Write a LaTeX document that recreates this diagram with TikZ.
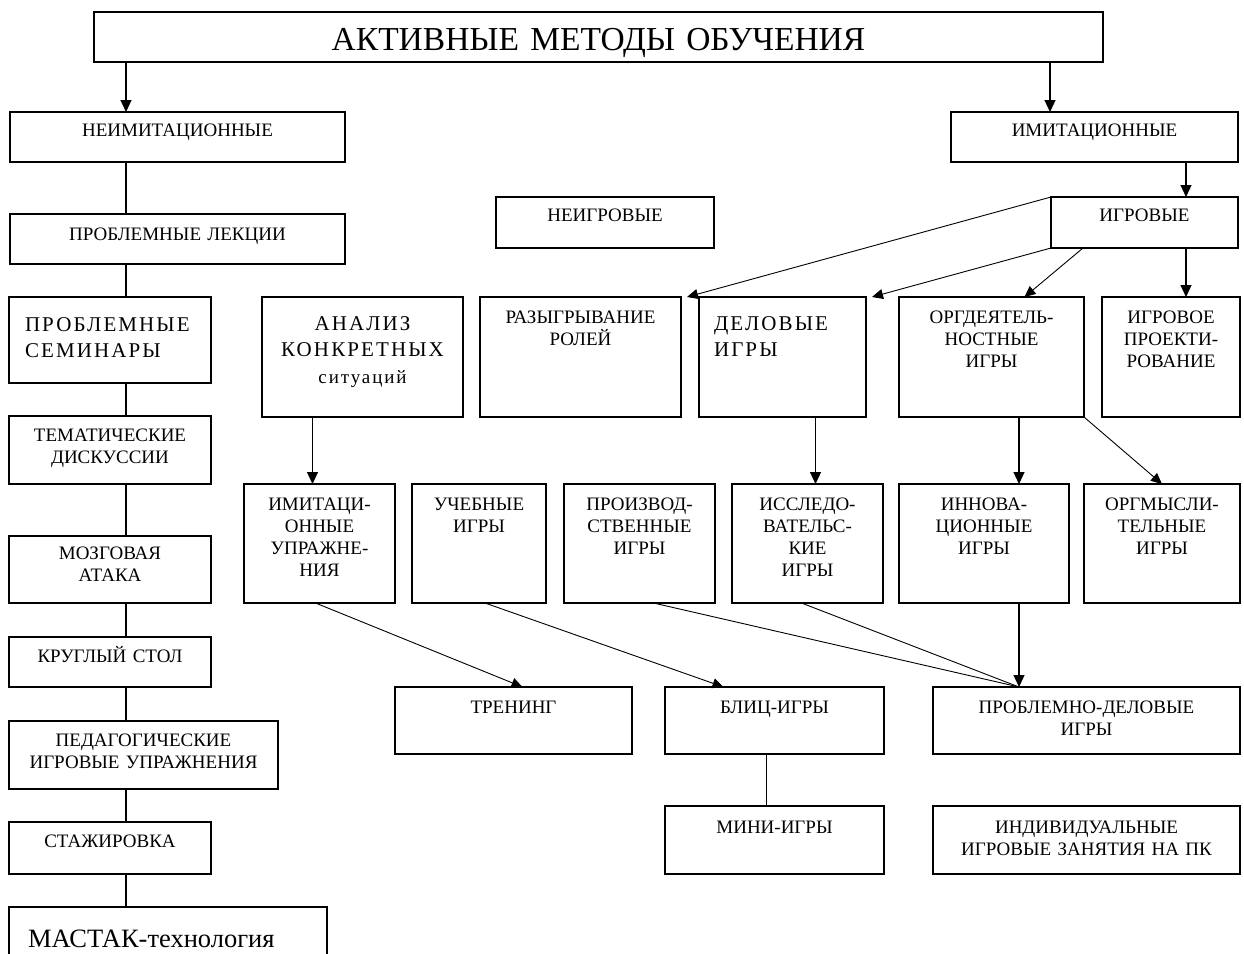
\documentclass[tikz,border=0pt]{standalone}
\usepackage{fontspec}
\setmainfont{Liberation Serif}
\newfontfamily\widefont[LetterSpace=10]{Liberation Serif}
\usetikzlibrary{arrows.meta}

\tikzstyle{bag} = [draw, line width=1.3pt, anchor=north west, inner sep=0pt, outer sep=0pt,
  align=center, font=\fontsize{19}{22}\selectfont]
\tikzstyle{big} = [font=\widefont\fontsize{21}{26.5}\selectfont]
\tikzstyle{con} = [line width=1.2pt]
\tikzstyle{arr} = [line width=1.2pt, -{Triangle[length=12pt,width=11pt]}]
\tikzstyle{tcon} = [line width=0.9pt]
\tikzstyle{tarr} = [line width=0.9pt, -{Triangle[length=11pt,width=10pt]}]

\begin{document}
\begin{tikzpicture}[x=1pt, y=-1pt]
\path[use as bounding box, fill=white] (0,0) rectangle (1244,953);

% top
\node[bag, text width=1009pt, text height=38pt, text depth=12pt,
  font=\fontsize{33.5}{36}\selectfont] (title) at (94,12) {АКТИВНЫЕ МЕТОДЫ ОБУЧЕНИЯ};
\node[bag, text width=335pt, text height=24pt, text depth=26pt] (neimit) at (10,112) {НЕИМИТАЦИОННЫЕ};
\node[bag, text width=287pt, text height=24pt, text depth=26pt] (imit) at (951,112) {ИМИТАЦИОННЫЕ};
\node[bag, text width=218pt, text height=24pt, text depth=27pt] (neigr) at (496,197) {НЕИГРОВЫЕ};
\node[bag, text width=187pt, text height=24pt, text depth=27pt] (igr) at (1051,197) {ИГРОВЫЕ};

% left column
\node[bag, text width=335pt, text height=26pt, text depth=24pt] (lect) at (10,214) {ПРОБЛЕМНЫЕ ЛЕКЦИИ};
\node[bag, big, align=left, inner xsep=16pt, text width=170pt,
  text height=34pt, text depth=52pt] (sem) at (9,297) {ПРОБЛЕМНЫЕ\\СЕМИНАРЫ};
\node[bag, text width=202pt, text height=25pt, text depth=43pt] (tema) at (9,416) {ТЕМАТИЧЕСКИЕ\\ДИСКУССИИ};
\node[bag, text width=202pt, text height=23pt, text depth=44pt] (mozg) at (9,536) {МОЗГОВАЯ\\АТАКА};
\node[bag, text width=202pt, text height=25pt, text depth=25pt] (krug) at (9,637) {КРУГЛЫЙ СТОЛ};
\node[bag, text width=269pt, text height=25pt, text depth=43pt] (ped) at (9,721) {ПЕДАГОГИЧЕСКИЕ\\ИГРОВЫЕ УПРАЖНЕНИЯ};
\node[bag, text width=202pt, text height=25pt, text depth=27pt] (stazh) at (9,822) {СТАЖИРОВКА};
\node[bag, align=left, inner xsep=19pt, text width=280pt,
  text height=40pt, text depth=20pt, font=\fontsize{26.5}{30}\selectfont] (mast) at (9,907) {МАСТАК-технология};

% second row
\node[bag, big, text width=201pt, text height=33pt, text depth=87pt] (anal) at (262,297)
  {АНАЛИЗ\\КОНКРЕТНЫХ\\{\fontsize{19}{26.5}\selectfont ситуаций}};
\node[bag, text width=201pt, text height=26pt, text depth=94pt] (roli) at (480,297) {РАЗЫГРЫВАНИЕ\\РОЛЕЙ};
\node[bag, big, align=left, inner xsep=15pt, text width=137pt,
  text height=33pt, text depth=87pt] (delo) at (699,297) {ДЕЛОВЫЕ\\ИГРЫ};
\node[bag, text width=185pt, text height=26pt, text depth=94pt] (orgd) at (899,297) {ОРГДЕЯТЕЛЬ-\\НОСТНЫЕ\\ИГРЫ};
\node[bag, text width=138pt, text height=26pt, text depth=94pt] (proekt) at (1102,297) {ИГРОВОЕ\\ПРОЕКТИ-\\РОВАНИЕ};

% third row
\node[bag, text width=151pt, text height=26pt, text depth=93pt] (imup) at (244,484) {ИМИТАЦИ-\\ОННЫЕ\\УПРАЖНЕ-\\НИЯ};
\node[bag, text width=134pt, text height=26pt, text depth=93pt] (ucheb) at (412,484) {УЧЕБНЫЕ\\ИГРЫ};
\node[bag, text width=151pt, text height=26pt, text depth=93pt] (proizv) at (564,484) {ПРОИЗВОД-\\СТВЕННЫЕ\\ИГРЫ};
\node[bag, text width=151pt, text height=26pt, text depth=93pt] (issl) at (732,484) {ИССЛЕДО-\\ВАТЕЛЬС-\\КИЕ\\ИГРЫ};
\node[bag, text width=170pt, text height=26pt, text depth=93pt] (innov) at (899,484) {ИННОВА-\\ЦИОННЫЕ\\ИГРЫ};
\node[bag, text width=156pt, text height=26pt, text depth=93pt] (orgm) at (1084,484) {ОРГМЫСЛИ-\\ТЕЛЬНЫЕ\\ИГРЫ};

% bottom rows
\node[bag, text width=237pt, text height=26pt, text depth=41pt] (trening) at (395,687) {ТРЕНИНГ};
\node[bag, text width=219pt, text height=26pt, text depth=41pt] (blic) at (665,687) {БЛИЦ-ИГРЫ};
\node[bag, text width=307pt, text height=26pt, text depth=41pt] (probl) at (933,687) {ПРОБЛЕМНО-ДЕЛОВЫЕ\\ИГРЫ};
\node[bag, text width=219pt, text height=27pt, text depth=41pt] (mini) at (665,806) {МИНИ-ИГРЫ};
\node[bag, text width=307pt, text height=27pt, text depth=41pt] (indiv) at (933,806) {ИНДИВИДУАЛЬНЫЕ\\ИГРОВЫЕ ЗАНЯТИЯ НА ПК};

% connectors
\coordinate (lx) at (126,0);
\coordinate (rx) at (1050,0);
\coordinate (gx) at (1186,0);
\coordinate (ix) at (1019,0);

\draw[arr] (title.south -| lx) -- (neimit.north -| lx);
\draw[arr] (title.south -| rx) -- (imit.north -| rx);
\draw[arr] (imit.south -| gx) -- (igr.north -| gx);
\draw[arr] (igr.south -| gx) -- (proekt.north -| gx);
\foreach \a/\b in {neimit/lect, lect/sem, sem/tema, tema/mozg, mozg/krug, krug/ped, ped/stazh, stazh/mast}
  \draw[con] (\a.south -| lx) -- (\b.north -| lx);

\draw[tarr] (igr.north west) -- ([xshift=6pt]roli.north east);
\draw[tarr] (igr.south west) -- ([xshift=6pt]delo.north east);
\draw[tarr] ([xshift=32pt]igr.south west) -- ([xshift=33pt]orgd.north);
\draw[arr] ([xshift=-50pt]anal.south) -- ([xshift=-50pt]anal.south |- imup.north);
\draw[arr] ([xshift=33pt]delo.south) -- ([xshift=33pt]delo.south |- issl.north);
\draw[arr] (orgd.south -| ix) -- (innov.north -| ix);
\draw[tarr] (orgd.south east) -- (orgm.north);

\draw[tarr] ([xshift=-4pt]imup.south) -- ([xshift=9pt]trening.north);
\draw[tarr] ([xshift=6pt]ucheb.south) -- ([xshift=-51pt]blic.north);
\draw[tcon] ([xshift=14pt]proizv.south) -- (probl.north -| ix);
\draw[tcon] ([xshift=-6pt]issl.south) -- (probl.north -| ix);
\draw[arr] (innov.south -| ix) -- (probl.north -| ix);
\draw[con] ([xshift=-8pt]blic.south) -- ([xshift=-8pt]mini.north);
\end{tikzpicture}
\end{document}
